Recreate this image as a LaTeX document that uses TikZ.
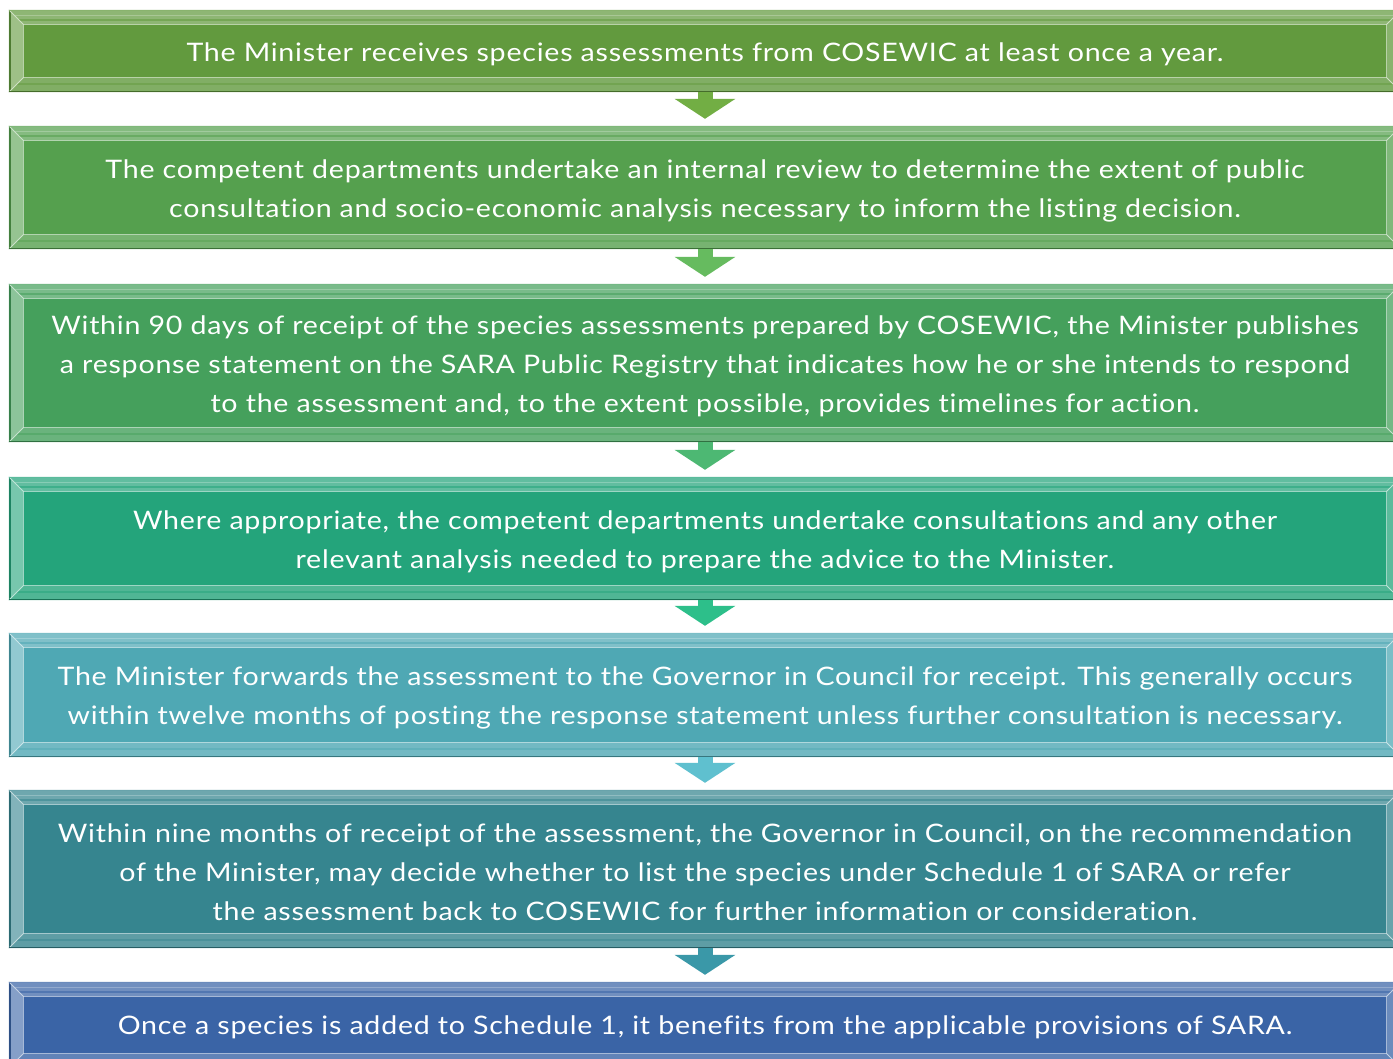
\documentclass[tikz,border=0pt]{standalone}
\usepackage{fontspec}
\setmainfont[FakeStretch=1.12, LetterSpace=3, Ligatures={NoCommon,NoRare,NoDiscretionary}]{Lato}
\usetikzlibrary{calc,arrows.meta}

% stage fills
\definecolor{s1}{HTML}{629A3E}
\definecolor{s2}{HTML}{55A04E}
\definecolor{s3}{HTML}{45A05C}
\definecolor{s4}{HTML}{24A47B}
\definecolor{s5}{HTML}{4FA8B4}
\definecolor{s6}{HTML}{36858F}
\definecolor{s7}{HTML}{3A64A6}
% connector fills
\definecolor{a1}{HTML}{72AE44}
\definecolor{a2}{HTML}{66BB5F}
\definecolor{a3}{HTML}{4DB873}
\definecolor{a4}{HTML}{2DBF8A}
\definecolor{a5}{HTML}{5FC0CF}
\definecolor{a6}{HTML}{3A98A8}

\tikzset{
  stage/.style={rectangle, inner sep=0pt, minimum width=1392pt, text=white,
    align=center, font=\fontsize{25.5}{39}\selectfont},
  flowarrow/.style={line width=15pt, -{Triangle[width=60pt,length=20pt]}},
}

% bevelled stage box: name, top, bottom, colour, text
\newcommand\flowstage[5]{%
  \node[stage, fill=#4, minimum height={#3-#2}] (#1) at (705,{(#2+#3)/2}) {};
  % top bevel
  \fill[#4!72!white] (#1.north west) -- (#1.north east) -- ($(#1.north east)+(-15,15)$) -- ($(#1.north west)+(15,15)$) -- cycle;
  \draw[#4!55!white, line width=1.2pt] ($(#1.north west)+(6,6)$) -- ($(#1.north east)+(-6,6)$);
  \draw[#4!88!white, line width=2pt] ($(#1.north west)+(10,10)$) -- ($(#1.north east)+(-10,10)$);
  % bottom bevel
  \fill[#4!80!white] (#1.south west) -- (#1.south east) -- ($(#1.south east)+(-15,-15)$) -- ($(#1.south west)+(15,-15)$) -- cycle;
  \draw[#4!90!white, line width=2pt] ($(#1.south west)+(8,-8)$) -- ($(#1.south east)+(-8,-8)$);
  % left bevel
  \fill[#4!62!white] (#1.north west) -- ($(#1.north west)+(15,15)$) -- ($(#1.south west)+(15,-15)$) -- (#1.south west) -- cycle;
  \draw[#4!80!black, line width=1.5pt] ($(#1.north west)+(1,1)$) -- ($(#1.south west)+(1,-1)$);
  % right bevel
  \fill[#4!75!white] (#1.north east) -- ($(#1.north east)+(-15,15)$) -- ($(#1.south east)+(-15,-15)$) -- (#1.south east) -- cycle;
  % inner rim and corner mitres
  \draw[#4!45!white, line width=1pt] ($(#1.north west)+(15,15)$) rectangle ($(#1.south east)+(-15,-15)$);
  \draw[#4!30!white, line width=0.8pt] (#1.north west) -- ++(15,15) (#1.south west) -- ++(15,-15)
    (#1.north east) -- ++(-15,15) (#1.south east) -- ++(-15,-15);
  % outer edges
  \draw[#4!70!black, line width=1.5pt] ($(#1.south west)+(0,-0.75)$) -- ($(#1.south east)+(0,-0.75)$);
  \draw[#4!75!white, line width=1pt] ($(#1.north west)+(0,0.5)$) -- ($(#1.north east)+(0,0.5)$);
  \node[stage] at ([yshift=-3pt]#1.center) {#5};
}

\begin{document}
\begin{tikzpicture}[x=1pt,y=-1pt]
\useasboundingbox[fill=white] (0,0) rectangle (1393,1059);

\flowstage{b1}{10}{92}{s1}{The Minister receives species assessments from COSEWIC at least once a year.}
\flowstage{b2}{126}{249}{s2}{The competent departments undertake an internal review to determine the extent of public\\consultation and socio-economic analysis necessary to inform the listing decision.}
\flowstage{b3}{284}{442}{s3}{Within 90 days of receipt of the species assessments prepared by COSEWIC, the Minister publishes\\a response statement on the SARA Public Registry that indicates how he or she intends to respond\\to the assessment and, to the extent possible, provides timelines for action.}
\flowstage{b4}{477}{600}{s4}{Where appropriate, the competent departments undertake consultations and any other\\relevant analysis needed to prepare the advice to the Minister.}
\flowstage{b5}{633}{757}{s5}{The Minister forwards the assessment to the Governor in Council for receipt. This generally occurs\\within twelve months of posting the response statement unless further consultation is necessary.}
\flowstage{b6}{790}{948}{s6}{Within nine months of receipt of the assessment, the Governor in Council, on the recommendation\\of the Minister, may decide whether to list the species under Schedule 1 of SARA or refer\\the assessment back to COSEWIC for further information or consideration.}
\flowstage{b7}{982}{1068}{s7}{\raisebox{6pt}{Once a species is added to Schedule 1, it benefits from the applicable provisions of SARA.}}

\draw[flowarrow, draw=a1, fill=a1] (b1.south) -- ([yshift=7pt]b2.north);
\draw[flowarrow, draw=a2, fill=a2] (b2.south) -- ([yshift=7pt]b3.north);
\draw[flowarrow, draw=a3, fill=a3] (b3.south) -- ([yshift=7pt]b4.north);
\draw[flowarrow, draw=a4, fill=a4] (b4.south) -- ([yshift=7pt]b5.north);
\draw[flowarrow, draw=a5, fill=a5] (b5.south) -- ([yshift=7pt]b6.north);
\draw[flowarrow, draw=a6, fill=a6] (b6.south) -- ([yshift=7pt]b7.north);
\end{tikzpicture}
\end{document}
